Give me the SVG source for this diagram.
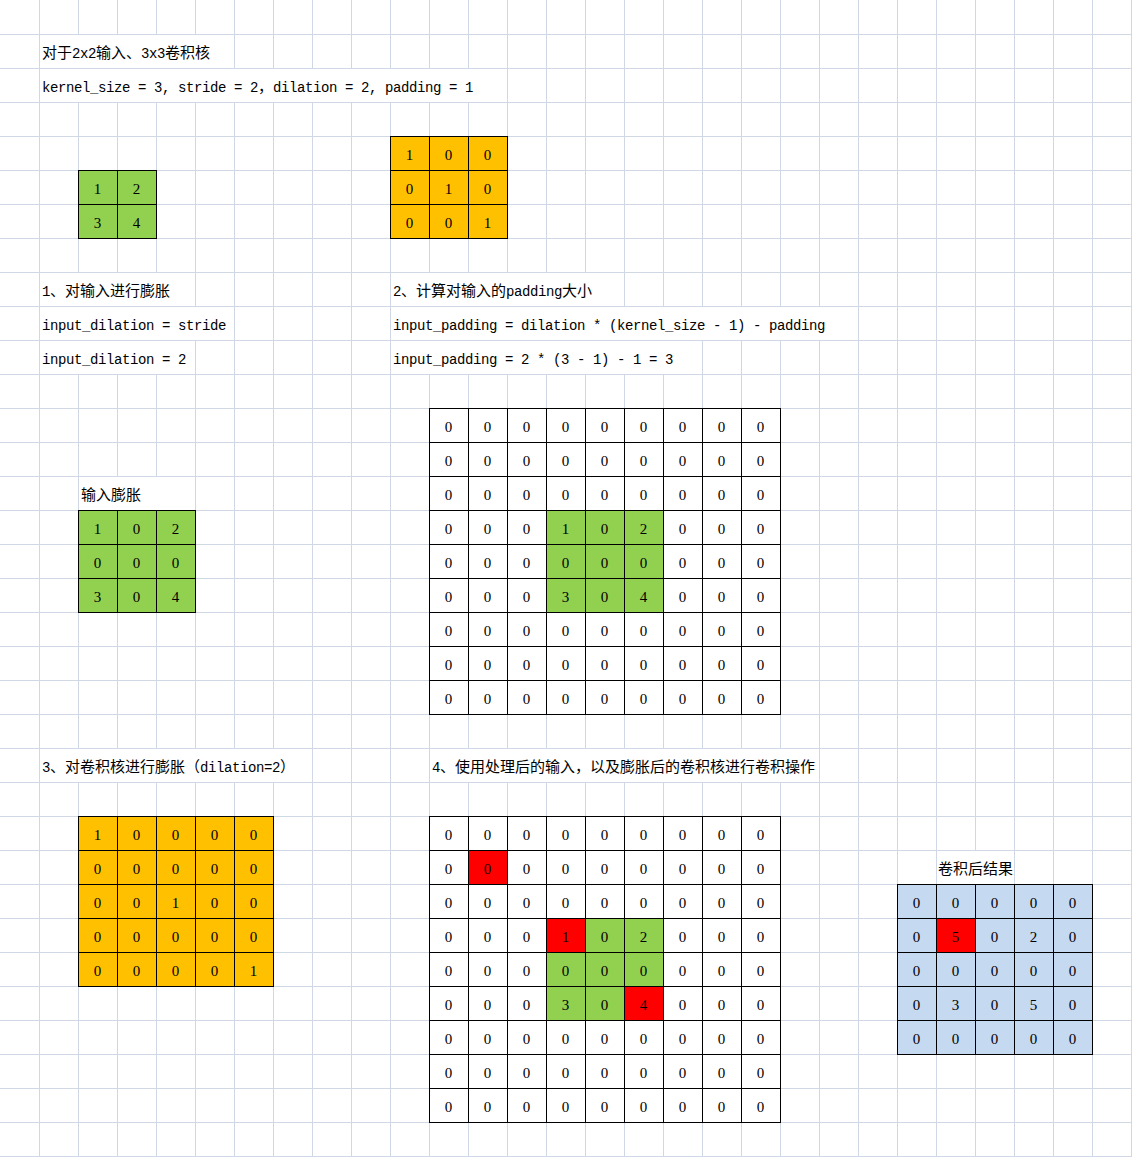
<svg xmlns="http://www.w3.org/2000/svg" width="1132" height="1157" viewBox="0 0 1132 1157">
<style>
.grid{fill:none;stroke:#d0d7e5;stroke-width:1}
.mask{fill:#ffffff}
.tb{stroke:#000;stroke-width:1}
.ln{fill:none;stroke:#000;stroke-width:1}
.w{fill:#ffffff}
.g{fill:#92d050}
.o{fill:#ffc000}
.r{fill:#ff0000}
.b{fill:#c5d9f1}
.n{font-family:"Liberation Serif","DejaVu Serif",serif;font-size:15px;text-anchor:middle;fill:#000}
.t{font-family:"Liberation Mono","Noto Sans CJK SC",monospace;font-size:14px;letter-spacing:-0.4px;fill:#000}
.c{font-family:"Noto Sans CJK SC",sans-serif;font-size:15px;letter-spacing:0px}
.lc{font-family:"Noto Sans CJK SC",sans-serif;font-size:15px;fill:#000}
</style>
<rect x="0" y="0" width="1132" height="1157" fill="#ffffff"/>
<g id="sheet-grid">
<path class="grid" d="M39.5 0V1157M78.5 0V1157M117.5 0V1157M156.5 0V1157M195.5 0V1157M234.5 0V1157M273.5 0V1157M312.5 0V1157M351.5 0V1157M390.5 0V1157M429.5 0V1157M468.5 0V1157M507.5 0V1157M546.5 0V1157M585.5 0V1157M624.5 0V1157M663.5 0V1157M702.5 0V1157M741.5 0V1157M780.5 0V1157M819.5 0V1157M858.5 0V1157M897.5 0V1157M936.5 0V1157M975.5 0V1157M1014.5 0V1157M1053.5 0V1157M1092.5 0V1157M1131.5 0V1157M0 34.5H1132M0 68.5H1132M0 102.5H1132M0 136.5H1132M0 170.5H1132M0 204.5H1132M0 238.5H1132M0 272.5H1132M0 306.5H1132M0 340.5H1132M0 374.5H1132M0 408.5H1132M0 442.5H1132M0 476.5H1132M0 510.5H1132M0 544.5H1132M0 578.5H1132M0 612.5H1132M0 646.5H1132M0 680.5H1132M0 714.5H1132M0 748.5H1132M0 782.5H1132M0 816.5H1132M0 850.5H1132M0 884.5H1132M0 918.5H1132M0 952.5H1132M0 986.5H1132M0 1020.5H1132M0 1054.5H1132M0 1088.5H1132M0 1122.5H1132M0 1156.5H1132"/>
<rect class="mask" x="40" y="35" width="194" height="33"/>
<rect class="mask" x="40" y="69" width="467" height="33"/>
<rect class="mask" x="40" y="273" width="155" height="33"/>
<rect class="mask" x="391" y="273" width="233" height="33"/>
<rect class="mask" x="40" y="307" width="194" height="33"/>
<rect class="mask" x="391" y="307" width="467" height="33"/>
<rect class="mask" x="40" y="341" width="155" height="33"/>
<rect class="mask" x="391" y="341" width="311" height="33"/>
<rect class="mask" x="79" y="477" width="116" height="33"/>
<rect class="mask" x="40" y="749" width="272" height="33"/>
<rect class="mask" x="430" y="749" width="389" height="33"/>
<rect class="mask" x="937" y="851" width="77" height="33"/>
</g>
<g id="connectors"></g>
<g id="title">
<text class="t" x="42" y="58"><tspan class="c">对于</tspan>2x2<tspan class="c">输入、</tspan>3x3<tspan class="c">卷积核</tspan></text>
<text class="t" x="42" y="92">kernel_size = 3, stride = 2<tspan class="c">，</tspan>dilation = 2, padding = 1</text>
</g>
<g id="input-2x2">
<rect class="g tb" x="78.5" y="170.5" width="78" height="68"/>
<path class="ln" d="M117.5 170.5V238.5M78.5 204.5H156.5"/>
<text class="n" x="97.5" y="194">1</text><text class="n" x="136.5" y="194">2</text>
<text class="n" x="97.5" y="228">3</text><text class="n" x="136.5" y="228">4</text>
</g>
<g id="kernel-3x3">
<rect class="o tb" x="390.5" y="136.5" width="117" height="102"/>
<path class="ln" d="M429.5 136.5V238.5M468.5 136.5V238.5M390.5 170.5H507.5M390.5 204.5H507.5"/>
<text class="n" x="409.5" y="160">1</text><text class="n" x="448.5" y="160">0</text><text class="n" x="487.5" y="160">0</text>
<text class="n" x="409.5" y="194">0</text><text class="n" x="448.5" y="194">1</text><text class="n" x="487.5" y="194">0</text>
<text class="n" x="409.5" y="228">0</text><text class="n" x="448.5" y="228">0</text><text class="n" x="487.5" y="228">1</text>
</g>
<g id="step1">
<text class="t" x="42" y="296">1<tspan class="c">、对输入进行膨胀</tspan></text>
<text class="t" x="42" y="330">input_dilation = stride</text>
<text class="t" x="42" y="364">input_dilation = 2</text>
</g>
<g id="step2">
<text class="t" x="393" y="296">2<tspan class="c">、计算对输入的</tspan>padding<tspan class="c">大小</tspan></text>
<text class="t" x="393" y="330">input_padding = dilation * (kernel_size - 1) - padding</text>
<text class="t" x="393" y="364">input_padding = 2 * (3 - 1) - 1 = 3</text>
</g>
<g id="padded-input">
<rect class="w tb" x="429.5" y="408.5" width="351" height="306"/>
<rect class="g" x="546" y="510" width="117" height="102"/>
<path class="ln" d="M429.5 408.5H780.5V714.5H429.5ZM468.5 408.5V714.5M507.5 408.5V714.5M546.5 408.5V714.5M585.5 408.5V714.5M624.5 408.5V714.5M663.5 408.5V714.5M702.5 408.5V714.5M741.5 408.5V714.5M429.5 442.5H780.5M429.5 476.5H780.5M429.5 510.5H780.5M429.5 544.5H780.5M429.5 578.5H780.5M429.5 612.5H780.5M429.5 646.5H780.5M429.5 680.5H780.5"/>
<text class="n" x="448.5" y="432">0</text><text class="n" x="487.5" y="432">0</text><text class="n" x="526.5" y="432">0</text><text class="n" x="565.5" y="432">0</text><text class="n" x="604.5" y="432">0</text><text class="n" x="643.5" y="432">0</text><text class="n" x="682.5" y="432">0</text><text class="n" x="721.5" y="432">0</text><text class="n" x="760.5" y="432">0</text>
<text class="n" x="448.5" y="466">0</text><text class="n" x="487.5" y="466">0</text><text class="n" x="526.5" y="466">0</text><text class="n" x="565.5" y="466">0</text><text class="n" x="604.5" y="466">0</text><text class="n" x="643.5" y="466">0</text><text class="n" x="682.5" y="466">0</text><text class="n" x="721.5" y="466">0</text><text class="n" x="760.5" y="466">0</text>
<text class="n" x="448.5" y="500">0</text><text class="n" x="487.5" y="500">0</text><text class="n" x="526.5" y="500">0</text><text class="n" x="565.5" y="500">0</text><text class="n" x="604.5" y="500">0</text><text class="n" x="643.5" y="500">0</text><text class="n" x="682.5" y="500">0</text><text class="n" x="721.5" y="500">0</text><text class="n" x="760.5" y="500">0</text>
<text class="n" x="448.5" y="534">0</text><text class="n" x="487.5" y="534">0</text><text class="n" x="526.5" y="534">0</text><text class="n" x="565.5" y="534">1</text><text class="n" x="604.5" y="534">0</text><text class="n" x="643.5" y="534">2</text><text class="n" x="682.5" y="534">0</text><text class="n" x="721.5" y="534">0</text><text class="n" x="760.5" y="534">0</text>
<text class="n" x="448.5" y="568">0</text><text class="n" x="487.5" y="568">0</text><text class="n" x="526.5" y="568">0</text><text class="n" x="565.5" y="568">0</text><text class="n" x="604.5" y="568">0</text><text class="n" x="643.5" y="568">0</text><text class="n" x="682.5" y="568">0</text><text class="n" x="721.5" y="568">0</text><text class="n" x="760.5" y="568">0</text>
<text class="n" x="448.5" y="602">0</text><text class="n" x="487.5" y="602">0</text><text class="n" x="526.5" y="602">0</text><text class="n" x="565.5" y="602">3</text><text class="n" x="604.5" y="602">0</text><text class="n" x="643.5" y="602">4</text><text class="n" x="682.5" y="602">0</text><text class="n" x="721.5" y="602">0</text><text class="n" x="760.5" y="602">0</text>
<text class="n" x="448.5" y="636">0</text><text class="n" x="487.5" y="636">0</text><text class="n" x="526.5" y="636">0</text><text class="n" x="565.5" y="636">0</text><text class="n" x="604.5" y="636">0</text><text class="n" x="643.5" y="636">0</text><text class="n" x="682.5" y="636">0</text><text class="n" x="721.5" y="636">0</text><text class="n" x="760.5" y="636">0</text>
<text class="n" x="448.5" y="670">0</text><text class="n" x="487.5" y="670">0</text><text class="n" x="526.5" y="670">0</text><text class="n" x="565.5" y="670">0</text><text class="n" x="604.5" y="670">0</text><text class="n" x="643.5" y="670">0</text><text class="n" x="682.5" y="670">0</text><text class="n" x="721.5" y="670">0</text><text class="n" x="760.5" y="670">0</text>
<text class="n" x="448.5" y="704">0</text><text class="n" x="487.5" y="704">0</text><text class="n" x="526.5" y="704">0</text><text class="n" x="565.5" y="704">0</text><text class="n" x="604.5" y="704">0</text><text class="n" x="643.5" y="704">0</text><text class="n" x="682.5" y="704">0</text><text class="n" x="721.5" y="704">0</text><text class="n" x="760.5" y="704">0</text>
</g>
<g id="dilated-input">
<text class="lc" x="81" y="500">输入膨胀</text>
<rect class="g tb" x="78.5" y="510.5" width="117" height="102"/>
<path class="ln" d="M117.5 510.5V612.5M156.5 510.5V612.5M78.5 544.5H195.5M78.5 578.5H195.5"/>
<text class="n" x="97.5" y="534">1</text><text class="n" x="136.5" y="534">0</text><text class="n" x="175.5" y="534">2</text>
<text class="n" x="97.5" y="568">0</text><text class="n" x="136.5" y="568">0</text><text class="n" x="175.5" y="568">0</text>
<text class="n" x="97.5" y="602">3</text><text class="n" x="136.5" y="602">0</text><text class="n" x="175.5" y="602">4</text>
</g>
<g id="step3">
<text class="t" x="42" y="772">3<tspan class="c">、对卷积核进行膨胀（</tspan>dilation=2<tspan class="c">）</tspan></text>
</g>
<g id="step4">
<text class="t" x="432" y="772">4<tspan class="c">、使用处理后的输入，以及膨胀后的卷积核进行卷积操作</tspan></text>
</g>
<g id="dilated-kernel">
<rect class="o tb" x="78.5" y="816.5" width="195" height="170"/>
<path class="ln" d="M117.5 816.5V986.5M156.5 816.5V986.5M195.5 816.5V986.5M234.5 816.5V986.5M78.5 850.5H273.5M78.5 884.5H273.5M78.5 918.5H273.5M78.5 952.5H273.5"/>
<text class="n" x="97.5" y="840">1</text><text class="n" x="136.5" y="840">0</text><text class="n" x="175.5" y="840">0</text><text class="n" x="214.5" y="840">0</text><text class="n" x="253.5" y="840">0</text>
<text class="n" x="97.5" y="874">0</text><text class="n" x="136.5" y="874">0</text><text class="n" x="175.5" y="874">0</text><text class="n" x="214.5" y="874">0</text><text class="n" x="253.5" y="874">0</text>
<text class="n" x="97.5" y="908">0</text><text class="n" x="136.5" y="908">0</text><text class="n" x="175.5" y="908">1</text><text class="n" x="214.5" y="908">0</text><text class="n" x="253.5" y="908">0</text>
<text class="n" x="97.5" y="942">0</text><text class="n" x="136.5" y="942">0</text><text class="n" x="175.5" y="942">0</text><text class="n" x="214.5" y="942">0</text><text class="n" x="253.5" y="942">0</text>
<text class="n" x="97.5" y="976">0</text><text class="n" x="136.5" y="976">0</text><text class="n" x="175.5" y="976">0</text><text class="n" x="214.5" y="976">0</text><text class="n" x="253.5" y="976">1</text>
</g>
<g id="convolution-input">
<rect class="w tb" x="429.5" y="816.5" width="351" height="306"/>
<rect class="g" x="546" y="918" width="117" height="102"/>
<rect class="r" x="468" y="850" width="39" height="34"/>
<rect class="r" x="546" y="918" width="39" height="34"/>
<rect class="r" x="624" y="986" width="39" height="34"/>
<path class="ln" d="M429.5 816.5H780.5V1122.5H429.5ZM468.5 816.5V1122.5M507.5 816.5V1122.5M546.5 816.5V1122.5M585.5 816.5V1122.5M624.5 816.5V1122.5M663.5 816.5V1122.5M702.5 816.5V1122.5M741.5 816.5V1122.5M429.5 850.5H780.5M429.5 884.5H780.5M429.5 918.5H780.5M429.5 952.5H780.5M429.5 986.5H780.5M429.5 1020.5H780.5M429.5 1054.5H780.5M429.5 1088.5H780.5"/>
<text class="n" x="448.5" y="840">0</text><text class="n" x="487.5" y="840">0</text><text class="n" x="526.5" y="840">0</text><text class="n" x="565.5" y="840">0</text><text class="n" x="604.5" y="840">0</text><text class="n" x="643.5" y="840">0</text><text class="n" x="682.5" y="840">0</text><text class="n" x="721.5" y="840">0</text><text class="n" x="760.5" y="840">0</text>
<text class="n" x="448.5" y="874">0</text><text class="n" x="487.5" y="874">0</text><text class="n" x="526.5" y="874">0</text><text class="n" x="565.5" y="874">0</text><text class="n" x="604.5" y="874">0</text><text class="n" x="643.5" y="874">0</text><text class="n" x="682.5" y="874">0</text><text class="n" x="721.5" y="874">0</text><text class="n" x="760.5" y="874">0</text>
<text class="n" x="448.5" y="908">0</text><text class="n" x="487.5" y="908">0</text><text class="n" x="526.5" y="908">0</text><text class="n" x="565.5" y="908">0</text><text class="n" x="604.5" y="908">0</text><text class="n" x="643.5" y="908">0</text><text class="n" x="682.5" y="908">0</text><text class="n" x="721.5" y="908">0</text><text class="n" x="760.5" y="908">0</text>
<text class="n" x="448.5" y="942">0</text><text class="n" x="487.5" y="942">0</text><text class="n" x="526.5" y="942">0</text><text class="n" x="565.5" y="942">1</text><text class="n" x="604.5" y="942">0</text><text class="n" x="643.5" y="942">2</text><text class="n" x="682.5" y="942">0</text><text class="n" x="721.5" y="942">0</text><text class="n" x="760.5" y="942">0</text>
<text class="n" x="448.5" y="976">0</text><text class="n" x="487.5" y="976">0</text><text class="n" x="526.5" y="976">0</text><text class="n" x="565.5" y="976">0</text><text class="n" x="604.5" y="976">0</text><text class="n" x="643.5" y="976">0</text><text class="n" x="682.5" y="976">0</text><text class="n" x="721.5" y="976">0</text><text class="n" x="760.5" y="976">0</text>
<text class="n" x="448.5" y="1010">0</text><text class="n" x="487.5" y="1010">0</text><text class="n" x="526.5" y="1010">0</text><text class="n" x="565.5" y="1010">3</text><text class="n" x="604.5" y="1010">0</text><text class="n" x="643.5" y="1010">4</text><text class="n" x="682.5" y="1010">0</text><text class="n" x="721.5" y="1010">0</text><text class="n" x="760.5" y="1010">0</text>
<text class="n" x="448.5" y="1044">0</text><text class="n" x="487.5" y="1044">0</text><text class="n" x="526.5" y="1044">0</text><text class="n" x="565.5" y="1044">0</text><text class="n" x="604.5" y="1044">0</text><text class="n" x="643.5" y="1044">0</text><text class="n" x="682.5" y="1044">0</text><text class="n" x="721.5" y="1044">0</text><text class="n" x="760.5" y="1044">0</text>
<text class="n" x="448.5" y="1078">0</text><text class="n" x="487.5" y="1078">0</text><text class="n" x="526.5" y="1078">0</text><text class="n" x="565.5" y="1078">0</text><text class="n" x="604.5" y="1078">0</text><text class="n" x="643.5" y="1078">0</text><text class="n" x="682.5" y="1078">0</text><text class="n" x="721.5" y="1078">0</text><text class="n" x="760.5" y="1078">0</text>
<text class="n" x="448.5" y="1112">0</text><text class="n" x="487.5" y="1112">0</text><text class="n" x="526.5" y="1112">0</text><text class="n" x="565.5" y="1112">0</text><text class="n" x="604.5" y="1112">0</text><text class="n" x="643.5" y="1112">0</text><text class="n" x="682.5" y="1112">0</text><text class="n" x="721.5" y="1112">0</text><text class="n" x="760.5" y="1112">0</text>
</g>
<g id="result">
<text class="lc" x="975.5" y="874" text-anchor="middle">卷积后结果</text>
<rect class="b tb" x="897.5" y="884.5" width="195" height="170"/>
<rect class="r" x="936" y="918" width="39" height="34"/>
<path class="ln" d="M897.5 884.5H1092.5V1054.5H897.5ZM936.5 884.5V1054.5M975.5 884.5V1054.5M1014.5 884.5V1054.5M1053.5 884.5V1054.5M897.5 918.5H1092.5M897.5 952.5H1092.5M897.5 986.5H1092.5M897.5 1020.5H1092.5"/>
<text class="n" x="916.5" y="908">0</text><text class="n" x="955.5" y="908">0</text><text class="n" x="994.5" y="908">0</text><text class="n" x="1033.5" y="908">0</text><text class="n" x="1072.5" y="908">0</text>
<text class="n" x="916.5" y="942">0</text><text class="n" x="955.5" y="942">5</text><text class="n" x="994.5" y="942">0</text><text class="n" x="1033.5" y="942">2</text><text class="n" x="1072.5" y="942">0</text>
<text class="n" x="916.5" y="976">0</text><text class="n" x="955.5" y="976">0</text><text class="n" x="994.5" y="976">0</text><text class="n" x="1033.5" y="976">0</text><text class="n" x="1072.5" y="976">0</text>
<text class="n" x="916.5" y="1010">0</text><text class="n" x="955.5" y="1010">3</text><text class="n" x="994.5" y="1010">0</text><text class="n" x="1033.5" y="1010">5</text><text class="n" x="1072.5" y="1010">0</text>
<text class="n" x="916.5" y="1044">0</text><text class="n" x="955.5" y="1044">0</text><text class="n" x="994.5" y="1044">0</text><text class="n" x="1033.5" y="1044">0</text><text class="n" x="1072.5" y="1044">0</text>
</g>
</svg>
